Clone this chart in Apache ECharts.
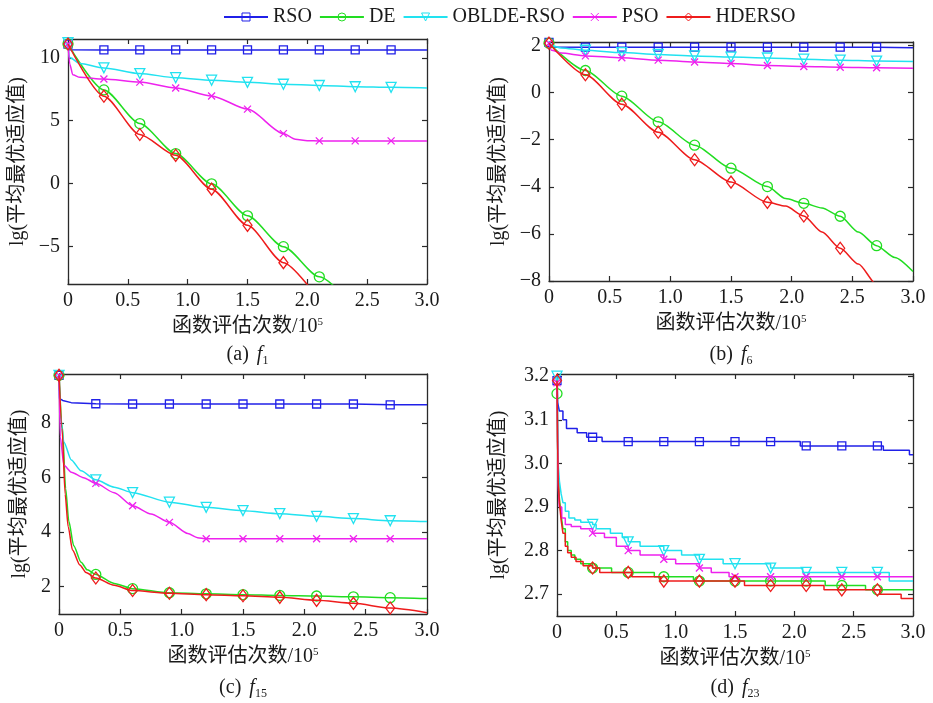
<!DOCTYPE html>
<html>
<head>
<meta charset="utf-8">
<title>收敛曲线</title>
<script src="https://cdn.jsdelivr.net/npm/echarts@6/dist/echarts.min.js"></script>
<style>
  html, body { margin: 0; padding: 0; background: #ffffff; }
  #chart { width: 933px; height: 703px; }
</style>
</head>
<body>
<div id="chart"></div>
<script>
// ---------- shared axis content ----------
const SERIES_NAMES = ['RSO', 'DE', 'OBLDE-RSO', 'PSO', 'HDERSO'];
const X_TICKS = [0, 0.5, 1.0, 1.5, 2.0, 2.5, 3.0];
const X_TICK_LABELS = ['0', '0.5', '1.0', '1.5', '2.0', '2.5', '3.0'];
const MARKER_X = [0, 0.3, 0.6, 0.9, 1.2, 1.5, 1.8, 2.1, 2.4, 2.7];

// ---------- (a) f1 : [evaluations /1e5, lg(mean best fitness)] ----------
const f1_RSO = [[0, 11.1], [0.01, 10.65], [0.3, 10.63], [0.6, 10.63], [0.9, 10.63], [1.2, 10.63], [1.5, 10.63], [1.8, 10.63], [2.1, 10.63], [2.4, 10.63], [2.7, 10.63], [3.0, 10.62]];
const f1_DE = [[0, 11.1], [0.3, 7.45], [0.6, 4.77], [0.9, 2.38], [1.2, -0.03], [1.5, -2.57], [1.8, -5.03], [2.1, -7.43], [2.4, -9.9]];
const f1_OBLDE = [[0, 11.2], [0.01, 10.05], [0.1, 9.55], [0.3, 9.2], [0.6, 8.75], [0.9, 8.42], [1.2, 8.22], [1.5, 8.05], [1.8, 7.9], [2.1, 7.8], [2.4, 7.7], [2.7, 7.65], [3.0, 7.6]];
const f1_PSO = [[0, 11.1], [0.015, 9.5], [0.04, 8.65], [0.1, 8.45], [0.3, 8.31], [0.6, 8.07], [0.9, 7.6], [1.2, 6.97], [1.5, 5.92], [1.8, 3.97], [1.9, 3.52], [2.0, 3.41], [2.1, 3.39], [2.4, 3.39], [2.7, 3.39], [3.0, 3.39]];
const f1_HDERSO = [[0, 11.1], [0.3, 6.95], [0.6, 3.9], [0.9, 2.24], [1.2, -0.45], [1.5, -3.33], [1.8, -6.3], [2.1, -9.3]];
const f1_Y_TICKS = [-5, 0, 5, 10];
const f1_Y_LABELS = ['\u22125', '0', '5', '10'];

// ---------- (b) f6 ----------
const f6_RSO = [[0, 2.13], [0.01, 1.94], [0.3, 1.93], [0.6, 1.93], [0.9, 1.93], [1.2, 1.93], [1.5, 1.93], [1.8, 1.93], [2.1, 1.93], [2.4, 1.93], [2.7, 1.93], [3.0, 1.91]];
const f6_DE = [[0, 2.1], [0.3, 0.94], [0.6, -0.15], [0.9, -1.24], [1.2, -2.23], [1.5, -3.21], [1.8, -3.99], [1.95, -4.5], [2.1, -4.7], [2.25, -4.9], [2.4, -5.25], [2.55, -5.92], [2.7, -6.5], [2.85, -7.0], [3.0, -7.6]];
const f6_OBLDE = [[0, 2.2], [0.02, 2.0], [0.1, 1.9], [0.3, 1.8], [0.6, 1.7], [0.9, 1.62], [1.2, 1.56], [1.5, 1.51], [1.8, 1.47], [2.1, 1.42], [2.4, 1.38], [2.7, 1.34], [3.0, 1.32]];
const f6_PSO = [[0, 2.1], [0.02, 1.8], [0.1, 1.68], [0.3, 1.56], [0.6, 1.48], [0.9, 1.38], [1.2, 1.3], [1.5, 1.24], [1.8, 1.15], [2.1, 1.11], [2.4, 1.08], [2.7, 1.06], [3.0, 1.04]];
const f6_HDERSO = [[0, 2.1], [0.3, 0.76], [0.6, -0.49], [0.9, -1.68], [1.2, -2.85], [1.5, -3.8], [1.8, -4.66], [1.95, -4.82], [2.1, -5.24], [2.25, -5.92], [2.4, -6.61], [2.55, -7.28], [2.7, -8.15], [2.85, -9.0]];
const f6_Y_TICKS = [-8, -6, -4, -2, 0, 2];
const f6_Y_LABELS = ['\u22128', '\u22126', '\u22124', '\u22122', '0', '2'];

// ---------- (c) f15 ----------
const f15_RSO = [[0, 9.75], [0.005, 8.9], [0.03, 8.83], [0.1, 8.75], [0.3, 8.71], [0.6, 8.7], [0.9, 8.7], [1.2, 8.7], [1.5, 8.7], [1.8, 8.7], [2.1, 8.7], [2.4, 8.7], [2.7, 8.67], [3.0, 8.67]];
const f15_DE = [[0, 9.75], [0.027, 7.9], [0.054, 5.6], [0.08, 4.4], [0.12, 3.5], [0.18, 2.9], [0.23, 2.62], [0.3, 2.45], [0.45, 2.12], [0.6, 1.93], [0.9, 1.78], [1.2, 1.74], [1.5, 1.71], [1.8, 1.68], [2.1, 1.66], [2.4, 1.63], [2.7, 1.6], [3.0, 1.57]];
const f15_OBLDE = [[0, 9.75], [0.01, 8.3], [0.04, 7.3], [0.1, 6.65], [0.18, 6.25], [0.3, 5.92], [0.45, 5.65], [0.6, 5.45], [0.9, 5.1], [1.2, 4.91], [1.5, 4.79], [1.8, 4.68], [2.1, 4.58], [2.4, 4.5], [2.7, 4.42], [3.0, 4.39]];
const f15_PSO = [[0, 9.75], [0.01, 7.5], [0.04, 6.45], [0.1, 6.2], [0.2, 6.0], [0.3, 5.79], [0.45, 5.45], [0.6, 4.97], [0.75, 4.67], [0.9, 4.36], [1.05, 3.95], [1.13, 3.8], [1.2, 3.76], [1.5, 3.76], [1.8, 3.76], [2.1, 3.76], [2.4, 3.76], [2.7, 3.76], [3.0, 3.76]];
const f15_HDERSO = [[0, 9.75], [0.025, 7.8], [0.05, 5.4], [0.075, 4.2], [0.11, 3.35], [0.17, 2.8], [0.22, 2.52], [0.3, 2.32], [0.45, 2.05], [0.6, 1.86], [0.9, 1.76], [1.2, 1.71], [1.5, 1.67], [1.8, 1.61], [2.1, 1.5], [2.4, 1.39], [2.7, 1.22], [3.0, 1.05]];
const f15_Y_TICKS = [2, 4, 6, 8];
const f15_Y_LABELS = ['2', '4', '6', '8'];

// ---------- (d) f23 (stair-step records) ----------
const f23_RSO = [[0, 3.19], [0.005, 3.14], [0.02, 3.12], [0.05, 3.10], [0.08, 3.08], [0.17, 3.07], [0.25, 3.06], [0.3, 3.06], [0.38, 3.05], [0.6, 3.05], [0.9, 3.05], [1.2, 3.05], [1.5, 3.05], [1.8, 3.05], [2.05, 3.04], [2.1, 3.04], [2.4, 3.04], [2.7, 3.04], [2.75, 3.03], [2.97, 3.02], [3.0, 3.02]];
const f23_DE = [[0, 3.16], [0.005, 3.05], [0.01, 2.97], [0.02, 2.92], [0.035, 2.88], [0.05, 2.85], [0.07, 2.82], [0.09, 2.80], [0.12, 2.79], [0.15, 2.78], [0.2, 2.77], [0.3, 2.76], [0.46, 2.75], [0.6, 2.75], [0.82, 2.74], [0.9, 2.74], [1.15, 2.73], [1.2, 2.73], [1.5, 2.73], [1.8, 2.73], [2.1, 2.73], [2.26, 2.72], [2.4, 2.72], [2.6, 2.71], [2.7, 2.71], [3.0, 2.71]];
const f23_OBLDE = [[0, 3.2], [0.005, 3.1], [0.01, 3.0], [0.02, 2.96], [0.035, 2.93], [0.05, 2.91], [0.07, 2.89], [0.1, 2.875], [0.15, 2.87], [0.2, 2.865], [0.3, 2.86], [0.33, 2.85], [0.45, 2.84], [0.55, 2.83], [0.6, 2.82], [0.7, 2.81], [0.9, 2.80], [1.05, 2.79], [1.2, 2.78], [1.4, 2.77], [1.5, 2.77], [1.8, 2.76], [2.07, 2.75], [2.1, 2.75], [2.4, 2.75], [2.7, 2.75], [2.8, 2.73], [3.0, 2.73]];
const f23_PSO = [[0, 3.185], [0.005, 3.05], [0.01, 2.95], [0.02, 2.9], [0.04, 2.875], [0.07, 2.86], [0.12, 2.855], [0.2, 2.85], [0.3, 2.84], [0.4, 2.83], [0.5, 2.81], [0.6, 2.80], [0.7, 2.79], [0.9, 2.78], [1.0, 2.77], [1.2, 2.76], [1.3, 2.75], [1.45, 2.74], [1.5, 2.74], [1.8, 2.74], [2.1, 2.74], [2.4, 2.74], [2.7, 2.74], [3.0, 2.74]];
const f23_HDERSO = [[0, 3.19], [0.005, 3.05], [0.01, 2.96], [0.02, 2.91], [0.035, 2.87], [0.05, 2.84], [0.07, 2.81], [0.09, 2.795], [0.12, 2.785], [0.16, 2.775], [0.22, 2.765], [0.3, 2.76], [0.36, 2.75], [0.6, 2.75], [0.63, 2.74], [0.87, 2.73], [0.9, 2.73], [1.2, 2.73], [1.5, 2.73], [1.58, 2.72], [1.8, 2.72], [2.1, 2.72], [2.25, 2.71], [2.4, 2.71], [2.7, 2.71], [2.72, 2.70], [2.9, 2.69], [3.0, 2.69]];
const f23_Y_TICKS = [2.7, 2.8, 2.9, 3.0, 3.1, 3.2];
const f23_Y_LABELS = ['2.7', '2.8', '2.9', '3.0', '3.1', '3.2'];

// ---------- styling ----------
const FONT = "'Liberation Serif', 'Times New Roman', 'Noto Sans CJK SC', serif";
const AXIS_COLOR = '#2a2a2a';
const TEXT_COLOR = '#1a1a1a';
const STYLE = {
  'RSO':       { color: '#2020e8', symbol: 'rect', size: 8, rotate: 0 },
  'DE':        { color: '#22dd22', symbol: 'circle', size: 10, rotate: 0 },
  'OBLDE-RSO': { color: '#22e2f0', symbol: 'triangle', size: 10, rotate: 180 },
  'PSO':       { color: '#ee22ee', symbol: 'path://M0,0L10,10M10,0L0,10', size: 7, rotate: 0 },
  'HDERSO':    { color: '#ee1c1c', symbol: 'diamond', size: [9, 12], rotate: 0 }
};

const panels = [
  { tag: 'a', sub: '1', step: false,
    data: [f1_RSO, f1_DE, f1_OBLDE, f1_PSO, f1_HDERSO],
    yMin: -8, yMax: 11.5, yTicks: f1_Y_TICKS, yLabels: f1_Y_LABELS,
    grid: { left: 68, top: 39, width: 359, height: 245 }, yNameGap: 40, titleY: 355 },
  { tag: 'b', sub: '6', step: false,
    data: [f6_RSO, f6_DE, f6_OBLDE, f6_PSO, f6_HDERSO],
    yMin: -8, yMax: 2.15, yTicks: f6_Y_TICKS, yLabels: f6_Y_LABELS,
    grid: { left: 549, top: 42, width: 364, height: 239 }, yNameGap: 40, titleY: 355 },
  { tag: 'c', sub: '15', step: false,
    data: [f15_RSO, f15_DE, f15_OBLDE, f15_PSO, f15_HDERSO],
    yMin: 1.0, yMax: 9.8, yTicks: f15_Y_TICKS, yLabels: f15_Y_LABELS,
    grid: { left: 59, top: 374, width: 368, height: 240 }, yNameGap: 29, titleY: 688 },
  { tag: 'd', sub: '23', step: true,
    data: [f23_RSO, f23_DE, f23_OBLDE, f23_PSO, f23_HDERSO],
    yMin: 2.65, yMax: 3.205, yTicks: f23_Y_TICKS, yLabels: f23_Y_LABELS,
    grid: { left: 557, top: 374, width: 356, height: 242 }, yNameGap: 48, titleY: 688 }
];

function labelFor(ticks, labels) {
  return function (v) {
    for (let i = 0; i < ticks.length; i++) {
      if (Math.abs(ticks[i] - v) < 1e-9) return labels[i];
    }
    return '';
  };
}

function isMarkerX(x) {
  return MARKER_X.some(function (m) { return Math.abs(m - x) < 1e-9; });
}

const grids = [], xAxes = [], yAxes = [], series = [], graphics = [];

panels.forEach(function (p, pi) {
  grids.push(Object.assign({ containLabel: false }, p.grid));
  const line = { show: true, onZero: false, lineStyle: { color: AXIS_COLOR, width: 1.3 } };
  const tickIn = { show: true, inside: true, length: 5, lineStyle: { color: AXIS_COLOR, width: 1.2 } };

  // bottom and top x axes
  xAxes.push({
    type: 'value', gridIndex: pi, position: 'bottom', min: 0, max: 3,
    axisLine: line,
    axisTick: Object.assign({ customValues: X_TICKS }, tickIn),
    axisLabel: { customValues: X_TICKS, formatter: labelFor(X_TICKS, X_TICK_LABELS),
      margin: 7, color: TEXT_COLOR, fontFamily: FONT, fontSize: 20 },
    splitLine: { show: false },
    name: '函数评估次数/10{sup|5}', nameLocation: 'middle', nameGap: 33,
    nameTextStyle: { color: TEXT_COLOR, fontFamily: FONT, fontSize: 20,
      rich: { sup: { fontFamily: FONT, fontSize: 11, color: TEXT_COLOR, verticalAlign: 'top', padding: [0, 0, 8, 0] } } }
  });
  xAxes.push({
    type: 'value', gridIndex: pi, position: 'top', min: 0, max: 3,
    axisLine: line,
    axisTick: Object.assign({ customValues: X_TICKS }, tickIn),
    axisLabel: { show: false }, splitLine: { show: false }
  });

  // left and right y axes
  yAxes.push({
    type: 'value', gridIndex: pi, position: 'left', min: p.yMin, max: p.yMax,
    axisLine: line,
    axisTick: Object.assign({ customValues: p.yTicks }, tickIn),
    axisLabel: { customValues: p.yTicks, formatter: labelFor(p.yTicks, p.yLabels),
      margin: 8, color: TEXT_COLOR, fontFamily: FONT, fontSize: 20 },
    splitLine: { show: false },
    name: 'lg(平均最优适应值)', nameLocation: 'middle', nameGap: p.yNameGap,
    nameTextStyle: { color: TEXT_COLOR, fontFamily: FONT, fontSize: 20 }
  });
  yAxes.push({
    type: 'value', gridIndex: pi, position: 'right', min: p.yMin, max: p.yMax,
    axisLine: line,
    axisTick: Object.assign({ customValues: p.yTicks }, tickIn),
    axisLabel: { show: false }, splitLine: { show: false }
  });

  SERIES_NAMES.forEach(function (name, si) {
    const st = STYLE[name];
    series.push({
      type: 'line', name: name,
      xAxisIndex: pi * 2, yAxisIndex: pi * 2,
      data: p.data[si].map(function (pt) {
        return isMarkerX(pt[0]) ? { value: pt } : { value: pt, symbol: 'none' };
      }),
      smooth: (p.step || name === 'RSO') ? false : 0.25,
      smoothMonotone: 'x',
      step: p.step ? 'end' : false,
      showSymbol: true,
      symbol: st.symbol, symbolSize: st.size, symbolRotate: st.rotate,
      color: st.color,
      lineStyle: { color: st.color, width: 1.5 },
      itemStyle: { color: 'rgba(255,255,255,0)', borderColor: st.color, borderWidth: 1.3 },
      emphasis: { disabled: true },
      clip: true, z: 2 + si
    });
  });

  // panel caption, e.g. "(a) f1"
  graphics.push({
    type: 'text',
    x: p.grid.left + p.grid.width / 2,
    y: p.titleY,
    style: {
      text: '(' + p.tag + ') {it|f}{sub|' + p.sub + '}',
      fontFamily: FONT, fontSize: 20, fill: TEXT_COLOR,
      align: 'center', verticalAlign: 'middle',
      rich: {
        it: { fontFamily: FONT, fontSize: 20, fontStyle: 'italic', fill: TEXT_COLOR, padding: [0, 0, 0, 3] },
        sub: { fontFamily: FONT, fontSize: 12, fill: TEXT_COLOR, verticalAlign: 'bottom', padding: [12, 0, 0, 0] }
      }
    }
  });
});

const chart = echarts.init(document.getElementById('chart'), null, { renderer: 'canvas' });
chart.setOption({
  backgroundColor: '#ffffff',
  animation: false,
  legend: {
    data: SERIES_NAMES,
    left: 218, top: 2,
    itemWidth: 44, itemHeight: 10, itemGap: 7,
    itemStyle: { borderWidth: 1 },
    textStyle: { fontFamily: FONT, fontSize: 20, color: TEXT_COLOR },
    selectedMode: false
  },
  grid: grids,
  xAxis: xAxes,
  yAxis: yAxes,
  series: series,
  graphic: graphics
});
</script>
</body>
</html>
